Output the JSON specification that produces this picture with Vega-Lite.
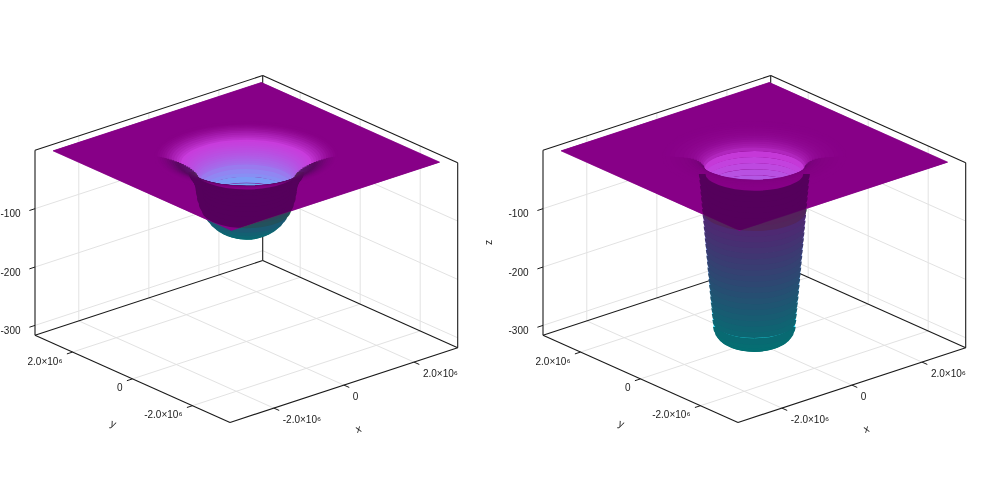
{
  "$schema": "https://vega.github.io/schema/vega-lite/v6.json",
  "width": 1000,
  "height": 500,
  "autosize": "none",
  "padding": 0,
  "background": "white",
  "config": {"view": {"stroke": null}, "text": {"font": "Liberation Sans"}},
  "datasets": {
    "rings": [
      {"p": 0, "r": 2.0, "z": 0}, {"p": 0, "r": 1.95, "z": -0.5}, {"p": 0, "r": 1.9, "z": -1},
      {"p": 0, "r": 1.85, "z": -1.7}, {"p": 0, "r": 1.8, "z": -2.5}, {"p": 0, "r": 1.745, "z": -3.7},
      {"p": 0, "r": 1.69, "z": -5}, {"p": 0, "r": 1.635, "z": -6.5}, {"p": 0, "r": 1.58, "z": -8},
      {"p": 0, "r": 1.53, "z": -9.5}, {"p": 0, "r": 1.48, "z": -11}, {"p": 0, "r": 1.43, "z": -13},
      {"p": 0, "r": 1.38, "z": -15}, {"p": 0, "r": 1.335, "z": -17}, {"p": 0, "r": 1.29, "z": -19},
      {"p": 0, "r": 1.25, "z": -21.5}, {"p": 0, "r": 1.21, "z": -24}, {"p": 0, "r": 1.18, "z": -26.5},
      {"p": 0, "r": 1.15, "z": -29}, {"p": 0, "r": 1.125, "z": -32}, {"p": 0, "r": 1.1, "z": -35},
      {"p": 0, "r": 1.085, "z": -38}, {"p": 0, "r": 1.07, "z": -41},
      {"p": 0, "r": 1.045, "z": -48}, {"p": 0, "r": 1.03, "z": -55}, {"p": 0, "r": 1.02, "z": -61},
      {"p": 0, "r": 1.0, "z": -70}, {"p": 0, "r": 0.96, "z": -80}, {"p": 0, "r": 0.9, "z": -90},
      {"p": 0, "r": 0.82, "z": -100}, {"p": 0, "r": 0.74, "z": -108}, {"p": 0, "r": 0.64, "z": -115},
      {"p": 0, "r": 0.54, "z": -120}, {"p": 0, "r": 0.43, "z": -124}, {"p": 0, "r": 0.32, "z": -127},
      {"p": 0, "r": 0.2, "z": -129}, {"p": 0, "r": 0.08, "z": -130},
      {"p": 1, "r": 2.0, "z": 0}, {"p": 1, "r": 1.9, "z": -0.2}, {"p": 1, "r": 1.8, "z": -0.5},
      {"p": 1, "r": 1.7, "z": -1}, {"p": 1, "r": 1.6, "z": -1.5}, {"p": 1, "r": 1.52, "z": -2.2},
      {"p": 1, "r": 1.45, "z": -3}, {"p": 1, "r": 1.38, "z": -4}, {"p": 1, "r": 1.32, "z": -5.5},
      {"p": 1, "r": 1.27, "z": -7.5}, {"p": 1, "r": 1.23, "z": -10}, {"p": 1, "r": 1.2, "z": -12.5},
      {"p": 1, "r": 1.17, "z": -15}, {"p": 1, "r": 1.144, "z": -20}, {"p": 1, "r": 1.132, "z": -30},
      {"p": 1, "r": 1.12, "z": -40}, {"p": 1, "r": 1.109, "z": -50}, {"p": 1, "r": 1.097, "z": -60},
      {"p": 1, "r": 1.085, "z": -70}, {"p": 1, "r": 1.073, "z": -80}, {"p": 1, "r": 1.062, "z": -90},
      {"p": 1, "r": 1.05, "z": -100}, {"p": 1, "r": 1.038, "z": -110}, {"p": 1, "r": 1.027, "z": -120},
      {"p": 1, "r": 1.015, "z": -130}, {"p": 1, "r": 1.003, "z": -140}, {"p": 1, "r": 0.992, "z": -150},
      {"p": 1, "r": 0.98, "z": -160}, {"p": 1, "r": 0.968, "z": -170}, {"p": 1, "r": 0.956, "z": -180},
      {"p": 1, "r": 0.945, "z": -190}, {"p": 1, "r": 0.933, "z": -200}, {"p": 1, "r": 0.921, "z": -210},
      {"p": 1, "r": 0.91, "z": -220}, {"p": 1, "r": 0.898, "z": -230}, {"p": 1, "r": 0.886, "z": -240},
      {"p": 1, "r": 0.875, "z": -250}, {"p": 1, "r": 0.863, "z": -260}, {"p": 1, "r": 0.851, "z": -270},
      {"p": 1, "r": 0.839, "z": -280}, {"p": 1, "r": 0.825, "z": -292}, {"p": 1, "r": 0.79, "z": -299},
      {"p": 1, "r": 0.74, "z": -304}, {"p": 1, "r": 0.68, "z": -308}, {"p": 1, "r": 0.6, "z": -311},
      {"p": 1, "r": 0.52, "z": -313}, {"p": 1, "r": 0.42, "z": -314.5}, {"p": 1, "r": 0.3, "z": -315},
      {"p": 1, "r": 0.18, "z": -315}, {"p": 1, "r": 0.06, "z": -315}
    ],
    "plane": [
      {"k": 0, "X": -2.97, "Y": -2.97}, {"k": 1, "X": 2.97, "Y": -2.97}, {"k": 2, "X": 2.97, "Y": 2.97},
      {"k": 3, "X": -2.97, "Y": 2.97}, {"k": 4, "X": -2.97, "Y": -2.97},
      {"k": 5, "t": -135}, {"k": 6, "t": -150}, {"k": 7, "t": -165}, {"k": 8, "t": -180},
      {"k": 9, "t": -195}, {"k": 10, "t": -210}, {"k": 11, "t": -225}, {"k": 12, "t": -240},
      {"k": 13, "t": -255}, {"k": 14, "t": -270}, {"k": 15, "t": -285}, {"k": 16, "t": -300},
      {"k": 17, "t": -315}, {"k": 18, "t": -330}, {"k": 19, "t": -345}, {"k": 20, "t": -360},
      {"k": 21, "t": -375}, {"k": 22, "t": -390}, {"k": 23, "t": -405}, {"k": 24, "t": -420},
      {"k": 25, "t": -435}, {"k": 26, "t": -450}, {"k": 27, "t": -465}, {"k": 28, "t": -480},
      {"k": 29, "t": -495}, {"k": 30, "X": -2.97, "Y": -2.97}
    ],
    "grid": [
      {"X1": -2, "Y1": -3.25, "Z1": -317, "X2": -2, "Y2": 3.25, "Z2": -317},
      {"X1": 0, "Y1": -3.25, "Z1": -317, "X2": 0, "Y2": 3.25, "Z2": -317},
      {"X1": 2, "Y1": -3.25, "Z1": -317, "X2": 2, "Y2": 3.25, "Z2": -317},
      {"X1": -3.25, "Y1": -2, "Z1": -317, "X2": 3.25, "Y2": -2, "Z2": -317},
      {"X1": -3.25, "Y1": 0, "Z1": -317, "X2": 3.25, "Y2": 0, "Z2": -317},
      {"X1": -3.25, "Y1": 2, "Z1": -317, "X2": 3.25, "Y2": 2, "Z2": -317},
      {"X1": -2, "Y1": 3.25, "Z1": -317, "X2": -2, "Y2": 3.25, "Z2": 0},
      {"X1": 0, "Y1": 3.25, "Z1": -317, "X2": 0, "Y2": 3.25, "Z2": 0},
      {"X1": 2, "Y1": 3.25, "Z1": -317, "X2": 2, "Y2": 3.25, "Z2": 0},
      {"X1": -3.25, "Y1": 3.25, "Z1": -300, "X2": 3.25, "Y2": 3.25, "Z2": -300},
      {"X1": -3.25, "Y1": 3.25, "Z1": -200, "X2": 3.25, "Y2": 3.25, "Z2": -200},
      {"X1": -3.25, "Y1": 3.25, "Z1": -100, "X2": 3.25, "Y2": 3.25, "Z2": -100},
      {"X1": 3.25, "Y1": -2, "Z1": -317, "X2": 3.25, "Y2": -2, "Z2": 0},
      {"X1": 3.25, "Y1": 0, "Z1": -317, "X2": 3.25, "Y2": 0, "Z2": 0},
      {"X1": 3.25, "Y1": 2, "Z1": -317, "X2": 3.25, "Y2": 2, "Z2": 0},
      {"X1": 3.25, "Y1": -3.25, "Z1": -300, "X2": 3.25, "Y2": 3.25, "Z2": -300},
      {"X1": 3.25, "Y1": -3.25, "Z1": -200, "X2": 3.25, "Y2": 3.25, "Z2": -200},
      {"X1": 3.25, "Y1": -3.25, "Z1": -100, "X2": 3.25, "Y2": 3.25, "Z2": -100}
    ],
    "edges": [
      {"X1": -3.25, "Y1": -3.25, "Z1": -317, "X2": -3.25, "Y2": 3.25, "Z2": -317},
      {"X1": -3.25, "Y1": -3.25, "Z1": -317, "X2": 3.25, "Y2": -3.25, "Z2": -317},
      {"X1": -3.25, "Y1": 3.25, "Z1": -317, "X2": 3.25, "Y2": 3.25, "Z2": -317},
      {"X1": 3.25, "Y1": -3.25, "Z1": -317, "X2": 3.25, "Y2": 3.25, "Z2": -317},
      {"X1": -3.25, "Y1": 3.25, "Z1": -317, "X2": -3.25, "Y2": 3.25, "Z2": 0},
      {"X1": 3.25, "Y1": 3.25, "Z1": -317, "X2": 3.25, "Y2": 3.25, "Z2": 0},
      {"X1": 3.25, "Y1": -3.25, "Z1": -317, "X2": 3.25, "Y2": -3.25, "Z2": 0},
      {"X1": -3.25, "Y1": 3.25, "Z1": 0, "X2": 3.25, "Y2": 3.25, "Z2": 0},
      {"X1": 3.25, "Y1": -3.25, "Z1": 0, "X2": 3.25, "Y2": 3.25, "Z2": 0}
    ],
    "ticks": [
      {"ax": "x", "v": -2, "lab": "-2.0×10⁶"}, {"ax": "x", "v": 0, "lab": "0"}, {"ax": "x", "v": 2, "lab": "2.0×10⁶"},
      {"ax": "y", "v": -2, "lab": "-2.0×10⁶"}, {"ax": "y", "v": 0, "lab": "0"}, {"ax": "y", "v": 2, "lab": "2.0×10⁶"},
      {"ax": "z", "v": -300, "lab": "-300"}, {"ax": "z", "v": -200, "lab": "-200"}, {"ax": "z", "v": -100, "lab": "-100"}
    ],
    "titles": [
      {"lab": "x", "X": -1.39, "Y": -5.36, "Z": -317},
      {"lab": "y", "X": -5.23, "Y": -1.67, "Z": -317},
      {"lab": "z", "X": -4.13, "Y": 4.03, "Z": -158.5}
    ]
  },
  "encoding": {
    "x": {"field": "sx", "type": "quantitative", "scale": {"domain": [0, 1000], "nice": false, "zero": false}, "axis": null},
    "y": {"field": "sy", "type": "quantitative", "scale": {"domain": [0, 500], "reverse": true, "nice": false, "zero": false}, "axis": null}
  },
  "layer": [
    {
      "data": {"name": "grid"},
      "transform": [
        {"calculate": "[0, 1]", "as": "ps"},
        {"flatten": ["ps"], "as": ["p"]},
        {"calculate": "246.35 + 508*datum.p + 35.03*datum.X1 - 30*datum.Y1", "as": "sx"},
        {"calculate": "156.5 - 11.5*datum.X1 - 13.4*datum.Y1 - 0.5836*datum.Z1", "as": "sy"},
        {"calculate": "246.35 + 508*datum.p + 35.03*datum.X2 - 30*datum.Y2", "as": "sx2"},
        {"calculate": "156.5 - 11.5*datum.X2 - 13.4*datum.Y2 - 0.5836*datum.Z2", "as": "sy2"}
      ],
      "mark": {"type": "rule", "color": "#e2e2e2", "strokeWidth": 1},
      "encoding": {"x2": {"field": "sx2"}, "y2": {"field": "sy2"}}
    },
    {
      "data": {"name": "edges"},
      "transform": [
        {"calculate": "[0, 1]", "as": "ps"},
        {"flatten": ["ps"], "as": ["p"]},
        {"calculate": "246.35 + 508*datum.p + 35.03*datum.X1 - 30*datum.Y1", "as": "sx"},
        {"calculate": "156.5 - 11.5*datum.X1 - 13.4*datum.Y1 - 0.5836*datum.Z1", "as": "sy"},
        {"calculate": "246.35 + 508*datum.p + 35.03*datum.X2 - 30*datum.Y2", "as": "sx2"},
        {"calculate": "156.5 - 11.5*datum.X2 - 13.4*datum.Y2 - 0.5836*datum.Z2", "as": "sy2"}
      ],
      "mark": {"type": "rule", "color": "#1a1a1a", "strokeWidth": 1.1},
      "encoding": {"x2": {"field": "sx2"}, "y2": {"field": "sy2"}}
    },
    {
      "data": {"name": "plane"},
      "transform": [
        {"filter": "datum.k <= 4"},
        {"calculate": "[0, 1]", "as": "ps"},
        {"flatten": ["ps"], "as": ["p"]},
        {"calculate": "246.35 + 508*datum.p + 35.03*datum.X - 30*datum.Y", "as": "sx"},
        {"calculate": "156.5 - 11.5*datum.X - 13.4*datum.Y", "as": "sy"}
      ],
      "mark": {"type": "line", "fill": "#870087", "stroke": "#870087", "strokeWidth": 0.5},
      "encoding": {
        "order": {"field": "k", "type": "quantitative"},
        "detail": {"field": "p", "type": "nominal"}
      }
    },
    {
      "data": {"name": "rings"},
      "transform": [
        {"joinaggregate": [{"op": "min", "field": "z", "as": "zmin"}], "groupby": ["p"]},
        {"calculate": "1 - datum.z/datum.zmin", "as": "v"},
        {"calculate": "246.35 + 508*datum.p", "as": "sx"},
        {"calculate": "156.5 - 0.5836*datum.z", "as": "sy"}
      ],
      "mark": {"type": "point", "shape": "M-1,0A1,0.3829,0,0,1,1,0", "filled": false, "opacity": 1, "strokeWidth": 6, "strokeCap": "butt"},
      "encoding": {
        "size": {"field": "r", "type": "quantitative", "scale": {"type": "pow", "exponent": 2, "domain": [0, 2], "range": [0, 34033]}, "legend": null},
        "stroke": {"field": "v", "type": "quantitative", "scale": {"domain": [0, 0.55, 0.9, 1], "range": ["#20f0ff", "#8c8cf4", "#c83cdc", "#870087"], "interpolate": "rgb"}, "legend": null},
        "order": {"field": "z", "type": "quantitative"}
      }
    },
    {
      "data": {"name": "rings"},
      "transform": [
        {"joinaggregate": [{"op": "min", "field": "z", "as": "zmin"}], "groupby": ["p"]},
        {"calculate": "1 - datum.z/datum.zmin", "as": "v"},
        {"calculate": "246.35 + 508*datum.p", "as": "sx"},
        {"calculate": "156.5 - 0.5836*datum.z", "as": "sy"}
      ],
      "mark": {"type": "point", "shape": "M-1,0A1,0.3829,0,0,0,1,0", "filled": false, "opacity": 1, "strokeWidth": 6.6, "strokeCap": "butt"},
      "encoding": {
        "size": {"field": "r", "type": "quantitative", "scale": {"type": "pow", "exponent": 2, "domain": [0, 2], "range": [0, 34033]}, "legend": null},
        "stroke": {"field": "v", "type": "quantitative", "scale": {"domain": [0, 0.8, 0.93, 1], "range": ["#007272", "#5c1c72", "#5a0862", "#870087"], "interpolate": "rgb"}, "legend": null},
        "order": {"field": "z", "type": "quantitative"}
      }
    },
    {
      "data": {"name": "plane"},
      "transform": [
        {"calculate": "[0, 1]", "as": "ps"},
        {"flatten": ["ps"], "as": ["p"]},
        {"calculate": "isValid(datum.t) ? 2*cos(datum.t*PI/180) : datum.X", "as": "X"},
        {"calculate": "isValid(datum.t) ? 2*sin(datum.t*PI/180) : datum.Y", "as": "Y"},
        {"calculate": "246.35 + 508*datum.p + 35.03*datum.X - 30*datum.Y", "as": "sx"},
        {"calculate": "156.5 - 11.5*datum.X - 13.4*datum.Y", "as": "sy"}
      ],
      "mark": {"type": "line", "fill": "#870087", "stroke": "#870087", "strokeWidth": 0.5},
      "encoding": {
        "order": {"field": "k", "type": "quantitative"},
        "detail": {"field": "p", "type": "nominal"}
      }
    },
    {
      "data": {"name": "rings"},
      "transform": [
        {"filter": "datum.z < -25 && datum.z > -100"},
        {"calculate": "246.35 + 508*datum.p", "as": "sx"},
        {"calculate": "156.5 - 0.5836*datum.z", "as": "sy"}
      ],
      "mark": {"type": "point", "shape": "M-1,0A1,0.3829,0,0,0,1,0", "filled": false, "opacity": 1, "stroke": "#55ff5c", "blend": "darken", "strokeWidth": 6.6, "strokeCap": "butt"},
      "encoding": {
        "size": {"field": "r", "type": "quantitative", "scale": {"type": "pow", "exponent": 2, "domain": [0, 2], "range": [0, 34033]}, "legend": null}
      }
    },
    {
      "data": {"name": "ticks"},
      "transform": [
        {"calculate": "[0, 1]", "as": "ps"},
        {"flatten": ["ps"], "as": ["p"]},
        {"calculate": "datum.ax == 'x' ? datum.v : -3.25", "as": "X1"},
        {"calculate": "datum.ax == 'y' ? datum.v : (datum.ax == 'x' ? -3.25 : 3.25)", "as": "Y1"},
        {"calculate": "datum.ax == 'z' ? datum.v : -317", "as": "Z1"},
        {"calculate": "datum.ax == 'x' ? datum.v : -3.41", "as": "X2"},
        {"calculate": "datum.ax == 'x' ? -3.43 : datum.Y1", "as": "Y2"},
        {"calculate": "246.35 + 508*datum.p + 35.03*datum.X1 - 30*datum.Y1", "as": "sx"},
        {"calculate": "156.5 - 11.5*datum.X1 - 13.4*datum.Y1 - 0.5836*datum.Z1", "as": "sy"},
        {"calculate": "246.35 + 508*datum.p + 35.03*datum.X2 - 30*datum.Y2", "as": "sx2"},
        {"calculate": "156.5 - 11.5*datum.X2 - 13.4*datum.Y2 - 0.5836*datum.Z1", "as": "sy2"}
      ],
      "layer": [
        {
          "mark": {"type": "rule", "color": "#1a1a1a", "strokeWidth": 1},
          "encoding": {"x2": {"field": "sx2"}, "y2": {"field": "sy2"}}
        },
        {
          "transform": [{"filter": "datum.ax == 'x'"}],
          "mark": {"type": "text", "align": "left", "baseline": "middle", "dx": 9, "dy": 11.5, "fontSize": 10, "color": "#1a1a1a"},
          "encoding": {"text": {"field": "lab", "type": "nominal"}}
        },
        {
          "transform": [{"filter": "datum.ax == 'y'"}],
          "mark": {"type": "text", "align": "right", "baseline": "middle", "dx": -10, "dy": 9.5, "fontSize": 10, "color": "#1a1a1a"},
          "encoding": {"text": {"field": "lab", "type": "nominal"}}
        },
        {
          "transform": [{"filter": "datum.ax == 'z'"}],
          "mark": {"type": "text", "align": "right", "baseline": "middle", "dx": -14.5, "dy": 5.5, "fontSize": 10, "color": "#1a1a1a"},
          "encoding": {"text": {"field": "lab", "type": "nominal"}}
        }
      ]
    },
    {
      "data": {"name": "titles"},
      "transform": [
        {"calculate": "[0, 1]", "as": "ps"},
        {"flatten": ["ps"], "as": ["p"]},
        {"filter": "datum.lab != 'z' || datum.p == 1"},
        {"calculate": "246.35 + 508*datum.p + 35.03*datum.X - 30*datum.Y", "as": "sx"},
        {"calculate": "156.5 - 11.5*datum.X - 13.4*datum.Y - 0.5836*datum.Z", "as": "sy"}
      ],
      "layer": [
        {
          "transform": [{"filter": "datum.lab == 'x'"}],
          "mark": {"type": "text", "align": "center", "baseline": "middle", "angle": 342, "fontSize": 10.5, "color": "#1a1a1a"},
          "encoding": {"text": {"field": "lab", "type": "nominal"}}
        },
        {
          "transform": [{"filter": "datum.lab == 'y'"}],
          "mark": {"type": "text", "align": "center", "baseline": "middle", "angle": 24, "fontSize": 10.5, "color": "#1a1a1a"},
          "encoding": {"text": {"field": "lab", "type": "nominal"}}
        },
        {
          "transform": [{"filter": "datum.lab == 'z'"}],
          "mark": {"type": "text", "align": "center", "baseline": "middle", "angle": 270, "fontSize": 10.5, "color": "#1a1a1a"},
          "encoding": {"text": {"field": "lab", "type": "nominal"}}
        }
      ]
    }
  ],
  "resolve": {"scale": {"stroke": "independent"}}
}
